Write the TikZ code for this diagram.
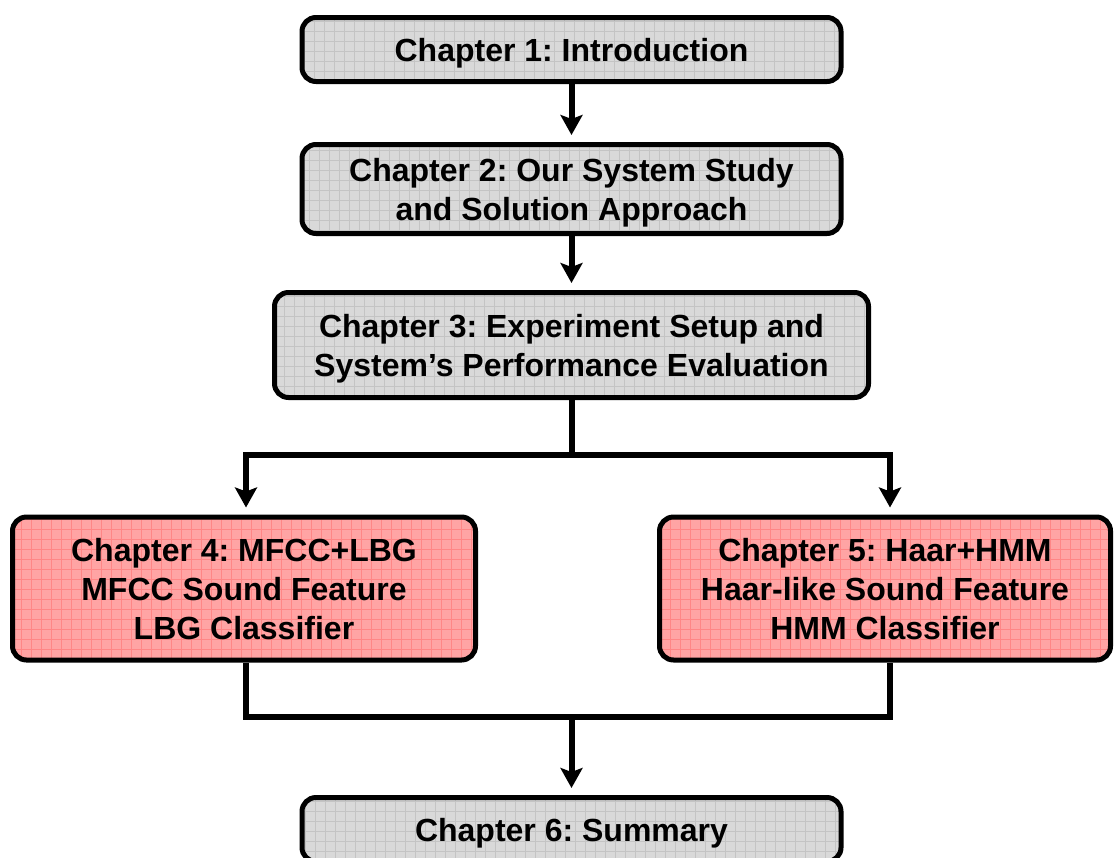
\documentclass[tikz,border=0pt]{standalone}
\usepackage{fontspec}
\setmainfont{Liberation Sans}
\usetikzlibrary{arrows.meta}

\definecolor{greyfill}{HTML}{D9D9D9}
\definecolor{greygrid}{HTML}{C4C4C4}
\definecolor{pinkfill}{HTML}{FFA4A4}
\definecolor{pinkgrid}{HTML}{FF8686}

\tikzset{
  chapbox/.style={
    draw=black, line width=5pt, rounded corners=14pt,
    inner sep=0pt, align=center, text depth=0pt,
    font=\fontsize{32}{39}\selectfont\bfseries\frenchspacing
  },
  greybox/.style={chapbox, fill=greyfill,
    path picture={\draw[greygrid, line width=1pt, step=10pt]
      (path picture bounding box.south west) grid (path picture bounding box.north east);}},
  pinkbox/.style={chapbox, fill=pinkfill,
    path picture={\draw[pinkgrid, line width=1pt, step=10pt]
      (path picture bounding box.south west) grid (path picture bounding box.north east);}},
  link/.style={line width=6pt, line join=miter, line cap=rect},
  flow/.style={link, line cap=butt, -{Stealth[length=20pt, width=22pt, inset=4pt]}, shorten >=7pt}
}

\begin{document}
\begin{tikzpicture}[x=1pt, y=-1pt]
  \useasboundingbox (0,0) rectangle (1115,857);
  \clip (0,0) rectangle (1115,857);

  % chapter boxes
  \node[greybox, minimum width=539pt, minimum height=64pt] (c1) at (571.5,49.5)
    {Chapter 1: Introduction};
  \node[greybox, minimum width=539pt, minimum height=89pt] (c2) at (571.5,189)
    {Chapter 2: Our System Study\\and Solution Approach};
  \node[greybox, minimum width=594pt, minimum height=105pt] (c3) at (571.5,345)
    {Chapter 3: Experiment Setup and\\System’s Performance Evaluation};
  \node[pinkbox, minimum width=463pt, minimum height=143pt] (c4) at (244,588.5)
    {Chapter 4: MFCC+LBG\\MFCC Sound Feature\\LBG Classifier};
  \node[pinkbox, minimum width=451pt, minimum height=143pt] (c5) at (885,588.5)
    {Chapter 5: Haar+HMM\\Haar-like Sound Feature\\HMM Classifier};
  \node[greybox, minimum width=539pt, minimum height=64pt] (c6) at (571.5,829.5)
    {Chapter 6: Summary};

  % branch and merge points
  \coordinate (splitL) at (246,455);
  \coordinate (splitR) at (890,455);
  \coordinate (split) at (c3.south |- splitL);
  \coordinate (mergeL) at (246,717);
  \coordinate (mergeR) at (890,717);
  \coordinate (merge) at (c6.north |- mergeL);

  % connectors
  \draw[flow] (c1.south) -- (c2.north);
  \draw[flow] (c2.south) -- (c3.north);
  \draw[link] (c3.south) -- (split);
  \draw[flow] (split) -- (splitL) -- (splitL |- c4.north);
  \draw[flow] (split) -- (splitR) -- (splitR |- c5.north);
  \draw[link, line cap=butt] (mergeL |- c4.south) -- (mergeL) -- (mergeR) -- (mergeR |- c5.south);
  \draw[flow] (merge) -- (c6.north);
\end{tikzpicture}
\end{document}
